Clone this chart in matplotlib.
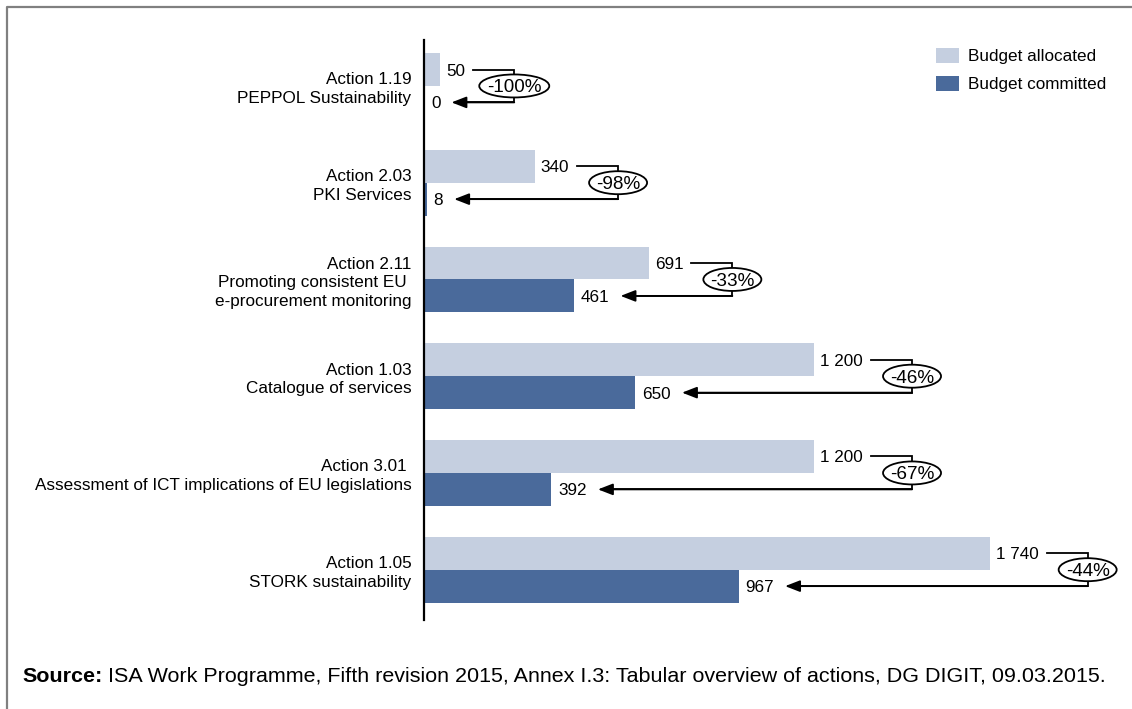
import matplotlib
matplotlib.use("Agg")
import matplotlib.pyplot as plt
from matplotlib.patches import Patch, Ellipse
from matplotlib.lines import Line2D
import matplotlib.transforms as mtransforms

plt.rcParams['font.family'] = ['Liberation Sans', 'DejaVu Sans']

categories = [
    "Action 1.19\nPEPPOL Sustainability",
    "Action 2.03\nPKI Services",
    "Action 2.11\nPromoting consistent EU \ne-procurement monitoring",
    "Action 1.03\nCatalogue of services",
    "Action 3.01 \nAssessment of ICT implications of EU legislations",
    "Action 1.05\nSTORK sustainability",
]
allocated = [50, 340, 691, 1200, 1200, 1740]
committed = [0, 8, 461, 650, 392, 967]
series_names = ["Budget allocated", "Budget committed"]
source_bold = "Source:"
source_text = " ISA Work Programme, Fifth revision 2015, Annex I.3: Tabular overview of actions, DG DIGIT, 09.03.2015."

c_alloc = "#C5CFE0"
c_comm = "#4A6A9B"
fs = 12.3

W, H = 1132, 709
fig = plt.figure(figsize=(W / 100, H / 100), dpi=100)
ax = fig.add_axes([424 / W, 1 - 620 / H, (1120 - 424) / W, 580 / H])

def fmt(v):
    return f"{v:,}".replace(",", " ")

bh = 0.34
ys = list(range(len(categories)))
ax.barh([y - bh / 2 for y in ys], allocated, height=bh, color=c_alloc)
ax.barh([y + bh / 2 for y in ys], committed, height=bh, color=c_comm)
ax.set_xlim(0, 2140)
ax.set_ylim(5.52, -0.475)

for s in ["top", "right", "bottom"]:
    ax.spines[s].set_visible(False)
ax.spines["left"].set_linewidth(1.6)
ax.set_xticks([])
ax.set_yticks(ys)
ax.set_yticklabels(categories, fontsize=fs, linespacing=1.3)
ax.tick_params(axis="y", length=0, pad=9)

off = mtransforms.offset_copy
alloc_lbls, comm_lbls = [], []
for y, a, c in zip(ys, allocated, committed):
    alloc_lbls.append(ax.text(a, y - bh / 2, fmt(a), fontsize=fs, va="center", ha="left",
                              transform=off(ax.transData, fig=fig, x=6, y=-1.5, units="dots")))
    comm_lbls.append(ax.text(c, y + bh / 2, fmt(c), fontsize=fs, va="center", ha="left",
                             transform=off(ax.transData, fig=fig, x=7, y=-1.5, units="dots")))

fig.canvas.draw()
inv = ax.transData.inverted()
for y, a, c, ta, tc in zip(ys, allocated, committed, alloc_lbls, comm_lbls):
    ea = ta.get_window_extent()
    ec = tc.get_window_extent()
    x_start = inv.transform((ea.x1 + 8, 0))[0]
    x_br = inv.transform((ea.x1 + 49, 0))[0]
    x_tip = inv.transform((ec.x1 + 11, 0))[0]
    y1, y2 = y - bh / 2, y + bh / 2
    ax.plot([x_start, x_br, x_br, x_tip + 30], [y1, y1, y2, y2], color="black", lw=1.3,
            solid_joinstyle="miter", clip_on=False)
    ax.annotate("", xy=(x_tip, y2), xytext=(x_br, y2),
                arrowprops=dict(arrowstyle="-|>,head_length=0.9,head_width=0.35", color="black",
                                lw=1.3, shrinkA=0, shrinkB=0), annotation_clip=False)
    pct = f"{round((c / a - 1) * 100)}%"
    ax.text(x_br, y, pct, fontsize=13.6, ha="center", va="center", zorder=5,
            transform=off(ax.transData, fig=fig, x=0, y=-2, units="dots"))
    ew = (len(pct) * 0.12 + 0.1)
    tr = fig.dpi_scale_trans + mtransforms.ScaledTranslation(x_br, y, ax.transData)
    ax.add_patch(Ellipse((0, 0), ew, 0.23, transform=tr, facecolor="white",
                         edgecolor="black", lw=1.3, zorder=4, clip_on=False))

handles = [Patch(facecolor=c_alloc), Patch(facecolor=c_comm)]
fig.legend(handles, series_names, loc="upper left", bbox_to_anchor=(936 / W, 1 - 48 / H),
           frameon=False, fontsize=fs, borderpad=0, borderaxespad=0, handlelength=1.32,
           handleheight=0.95, labelspacing=0.68, handletextpad=0.55)

t1 = fig.text(22 / W, 1 - 677 / H, source_bold, fontsize=15.45, fontweight="bold", va="center")
ax.annotate(source_text, xy=(1, 0.5), xycoords=t1, va="center", ha="left", fontsize=15.45,
            annotation_clip=False)

fig.add_artist(Line2D([6.5 / W, 6.5 / W, 1], [0, 1 - 6.5 / H, 1 - 6.5 / H],
                      transform=fig.transFigure, color="#808080", lw=1.6))

fig.savefig("out.png", dpi=100)
